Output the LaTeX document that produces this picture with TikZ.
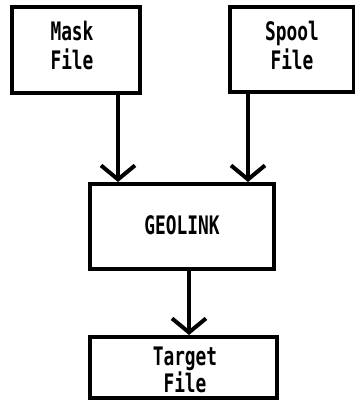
\documentclass[tikz,border=0pt]{standalone}
\usepackage{fontspec}
\newfontfamily\dfont[FakeStretch=0.7]{DejaVu Sans Mono}
\usetikzlibrary{arrows.meta}
\begin{document}
\begin{tikzpicture}[x=1pt,y=-1pt,
  box/.style={draw,line width=4pt,inner sep=0pt},
  lbl/.style={font=\dfont\bfseries\fontsize{25.5}{29}\selectfont,align=center,inner sep=0pt},
  flow/.style={line width=4pt,-{Straight Barb[length=14pt,width=34pt,line width=4pt]}}]
\useasboundingbox (0,0) rectangle (355,400);
% boxes
\node[box,minimum width=128pt,minimum height=86pt] (mask) at (76,50) {};
\node[box,minimum width=124pt,minimum height=85pt] (spool) at (292,49.5) {};
\node[box,minimum width=184pt,minimum height=85pt] (geo) at (182,226.5) {};
\node[box,minimum width=187pt,minimum height=61pt] (target) at (183.5,367.5) {};
% texts
\node[lbl] (maskt) at (72,45) {Mask\\File};
\node[lbl] (spoolt) at (292,45) {Spool\\File};
\node[lbl] (geot) at (182,225.5) {GEOLINK};
\node[lbl,font=\dfont\bfseries\fontsize{25.5}{27}\selectfont] (targett) at (185,370) {Target\\File};
% connectors
\coordinate (c1) at (118,0);
\coordinate (c2) at (248,0);
\coordinate (c3) at (189,0);
\draw[flow] (mask.south -| c1) -- (geo.north -| c1);
\draw[flow] (spool.south -| c2) -- (geo.north -| c2);
\draw[flow] (geo.south -| c3) -- (target.north -| c3);
\end{tikzpicture}
\end{document}
